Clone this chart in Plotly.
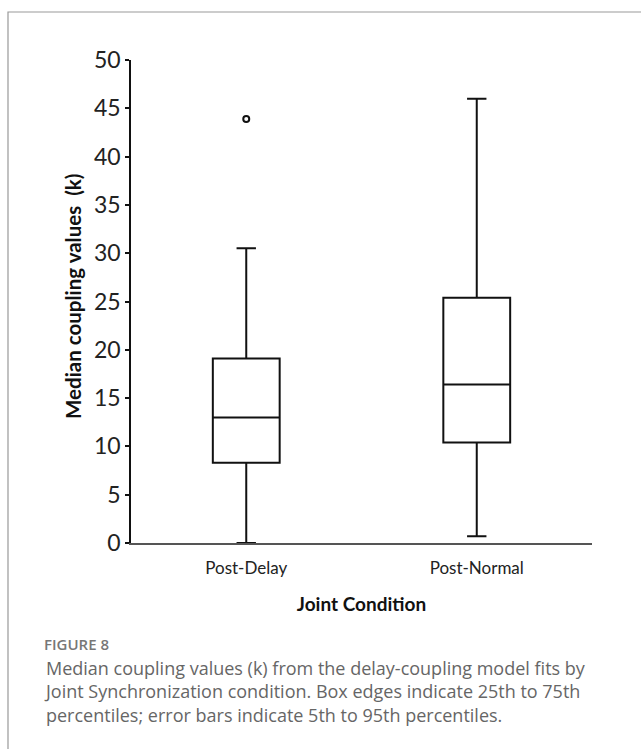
import plotly.graph_objects as go

# ---- data ----
categories = ["Post-Delay", "Post-Normal"]
lower_whisker = [0.0, 0.7]
q1_values = [8.3, 10.4]
median_values = [13.0, 16.4]
q3_values = [19.1, 25.4]
upper_whisker = [30.5, 46.0]
outlier_x = ["Post-Delay"]
outlier_y = [43.9]
y_ticks = [0, 5, 10, 15, 20, 25, 30, 35, 40, 45, 50]

W, H = 641, 749
L, R, T, B = 131, 49, 60, 206
PW, PH = W - L - R, H - T - B

def px(x):
    return (x - L) / PW

def py(y):
    return (H - B - y) / PH

fig = go.Figure()
fig.add_trace(go.Box(
    x=categories, q1=q1_values, median=median_values, q3=q3_values,
    lowerfence=lower_whisker, upperfence=upper_whisker,
    boxpoints=False, width=0.29, whiskerwidth=0.29,
    line=dict(color="#111", width=2), fillcolor="rgba(255,255,255,0)",
    showlegend=False, hoverinfo="skip",
))
fig.add_trace(go.Scatter(
    x=outlier_x, y=outlier_y, mode="markers",
    marker=dict(symbol="circle-open", size=6, color="#111", line=dict(width=2, color="#111")),
    showlegend=False, hoverinfo="skip",
))

fig.update_layout(
    width=W, height=H,
    margin=dict(l=L, r=R, t=T, b=B),
    paper_bgcolor="white", plot_bgcolor="white",
    font=dict(family="Lato", color="#222"),
    xaxis=dict(
        range=[-0.5, 1.5], showline=True, linecolor="#555", linewidth=2,
        ticks="", showgrid=False, zeroline=False, ticklabelstandoff=9,
        tickfont=dict(size=17, color="#222", family="Lato"),
        title=dict(text="<b>Joint Condition</b>", font=dict(size=19, color="#111", family="Lato"), standoff=20),
    ),
    yaxis=dict(
        range=[0, 50], tickvals=y_ticks, showline=True, linecolor="#111", linewidth=1.5,
        ticks="outside", ticklen=4, tickwidth=1.5, tickcolor="#111",
        showgrid=False, zeroline=False,
        tickfont=dict(size=23, color="#222", family="Lato"),
    ),
    annotations=[
        dict(text="<b>Median coupling values  (k)</b>", xref="paper", yref="paper",
             x=px(73), y=py(297), xanchor="center", yanchor="middle", textangle=-90,
             showarrow=False, font=dict(size=20.5, color="#111", family="Lato")),
        dict(text="FIGURE 8", xref="paper", yref="paper", x=px(42), y=py(644),
             xanchor="left", yanchor="middle", showarrow=False,
             font=dict(size=15, color="#777", family="Open Sans", weight=600)),
        dict(text="Median coupling values (k) from the delay-coupling model fits by<br>"
                  "Joint Synchronization condition. Box edges indicate 25th to 75th<br>"
                  "percentiles; error bars indicate 5th to 95th percentiles.",
             xref="paper", yref="paper", x=px(42), y=py(691),
             xanchor="left", yanchor="middle", align="left", showarrow=False,
             font=dict(size=18, color="#666", family="Open Sans")),
    ],
    shapes=[
        dict(type="rect", xref="paper", yref="paper", x0=px(8), x1=px(660),
             y0=py(770), y1=py(12), line=dict(color="#999", width=1.2), fillcolor="rgba(0,0,0,0)",
             layer="below"),
    ],
)

fig.write_html("out.html")
